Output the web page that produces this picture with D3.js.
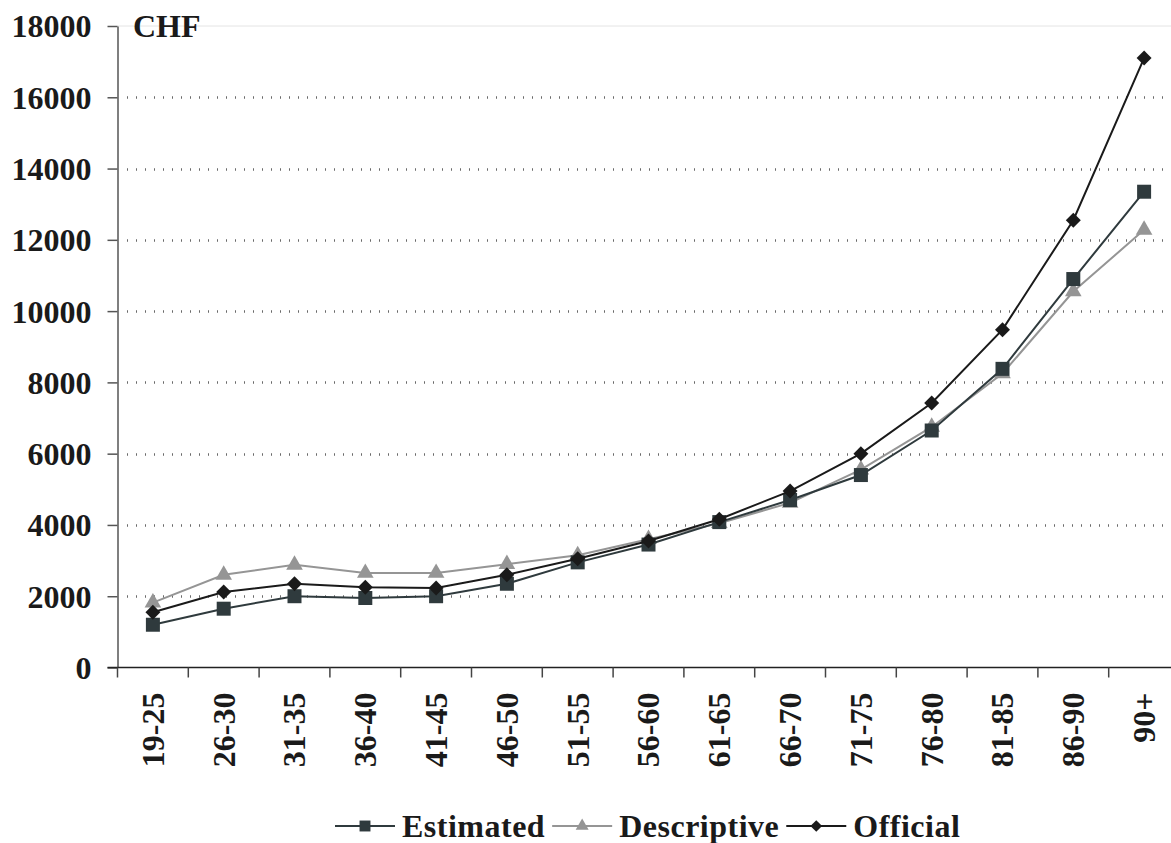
<!DOCTYPE html>
<html>
<head>
<meta charset="utf-8">
<script src="https://cdn.jsdelivr.net/npm/d3@7"></script>
<style>
  html, body { margin: 0; padding: 0; background: #fff; }
  svg { display: block; }
</style>
</head>
<body>
<svg id="chart" width="1171" height="843"></svg>
<script>
// Age groups on the x axis
const categories = ["19-25", "26-30", "31-35", "36-40", "41-45", "46-50", "51-55", "56-60",
                    "61-65", "66-70", "71-75", "76-80", "81-85", "86-90", "90+"];

// Cost per age group, CHF
const estimated   = [1200, 1650, 2000, 1950, 2000, 2350, 2950, 3450, 4080, 4700, 5400, 6650, 8380, 10900, 13350];
const descriptive = [1820, 2600, 2880, 2650, 2650, 2900, 3150, 3600, 4050, 4620, 5550, 6750, 8250, 10550, 12280];
const official    = [1550, 2120, 2350, 2250, 2230, 2600, 3050, 3550, 4160, 4950, 6000, 7420, 9480, 12550, 17100];

const yTicks = [0, 2000, 4000, 6000, 8000, 10000, 12000, 14000, 16000, 18000];
const seriesNames = ["Estimated", "Descriptive", "Official"];

const FONT = "'Liberation Serif', 'Times New Roman', serif";
const svg = d3.select("#chart");

function styleText(sel, size) {
  return sel.style("font-family", FONT).style("font-weight", "bold")
    .style("font-size", size + "px").style("fill", "#1a1a1a");
}

const plotLeft = 117.5, plotRight = 1179.5, plotTop = 26, plotBottom = 667.5;
const x = d3.scaleBand().domain(categories).range([plotLeft, plotRight]).padding(0);
const y = d3.scaleLinear().domain([0, 18000]).range([plotBottom, plotTop]);

// plot-area top border
svg.append("line")
  .attr("x1", plotLeft).attr("x2", plotRight)
  .attr("y1", y(18000)).attr("y2", y(18000))
  .attr("stroke", "#e4e4e4").attr("stroke-width", 1);

// dotted horizontal grid
svg.append("g").selectAll("line")
  .data(yTicks.filter(v => v > 0 && v < 18000))
  .join("line")
  .attr("x1", plotLeft + 9.5).attr("x2", plotRight)
  .attr("y1", d => Math.round(y(d)) + 0.5).attr("y2", d => Math.round(y(d)) + 0.5)
  .attr("stroke", "#6a6a6a").attr("stroke-width", 2.5)
  .attr("stroke-dasharray", "1 8");

// y axis
const yAxis = svg.append("g")
  .attr("transform", `translate(${plotLeft},0)`)
  .call(d3.axisLeft(y).tickValues(yTicks).tickSize(10).tickSizeOuter(0).tickPadding(16)
    .tickFormat(d3.format("d")));
yAxis.select(".domain").attr("stroke", "#555").attr("stroke-width", 1.5);
yAxis.selectAll(".tick line").attr("stroke", "#555").attr("stroke-width", 1.5);
styleText(yAxis.selectAll(".tick text"), 32).attr("dy", "0.34em");

// x axis line and boundary ticks
const xAxis = svg.append("g");
xAxis.append("line")
  .attr("x1", plotLeft - 10).attr("x2", plotRight)
  .attr("y1", plotBottom).attr("y2", plotBottom)
  .attr("stroke", "#222").attr("stroke-width", 1.5);
xAxis.selectAll("line.tk")
  .data(categories.concat(["__end"]))
  .join("line").attr("class", "tk")
  .attr("x1", d => d === "__end" ? plotRight : x(d))
  .attr("x2", d => d === "__end" ? plotRight : x(d))
  .attr("y1", plotBottom).attr("y2", plotBottom + 10)
  .attr("stroke", "#444").attr("stroke-width", 1.5);
styleText(xAxis.selectAll("text")
  .data(categories)
  .join("text")
  .attr("transform", d => `translate(${x(d) + x.bandwidth() / 2},${plotBottom + 25}) rotate(-90)`)
  .attr("text-anchor", "end")
  .attr("dy", "0.34em")
  .text(d => d), 32);

// unit label
styleText(svg.append("text").attr("x", 133).attr("y", 37).text("CHF"), 32);

// series
const series = [
  { name: seriesNames[0], values: estimated,   color: "#2f3a3d", shape: "square" },
  { name: seriesNames[1], values: descriptive, color: "#959595", shape: "triangle" },
  { name: seriesNames[2], values: official,    color: "#1a1a1a", shape: "diamond" }
];

function markerPath(shape, scale) {
  if (shape === "square") return d3.symbol(d3.symbolSquare, 196 * scale * scale)();
  if (shape === "triangle") return d3.symbol(d3.symbolTriangle, 120 * scale * scale)();
  return d3.symbol(d3.symbolSquare, 112 * scale * scale)();
}

const line = d3.line()
  .x((d, i) => x(categories[i]) + x.bandwidth() / 2)
  .y(d => y(d));

const g = svg.append("g");
// draw order: Descriptive, Estimated, Official on top
[series[1], series[0], series[2]].forEach(s => {
  g.append("path")
    .attr("d", line(s.values))
    .attr("fill", "none")
    .attr("stroke", s.color)
    .attr("stroke-width", 2);
  g.append("g").selectAll("path")
    .data(s.values)
    .join("path")
    .attr("d", markerPath(s.shape, 1))
    .attr("transform", (d, i) => `translate(${x(categories[i]) + x.bandwidth() / 2},${y(d)})` +
      (s.shape === "diamond" ? " rotate(45)" : ""))
    .attr("fill", s.color);
});

// legend
const legend = svg.append("g");
let lx = 335;
const ly = 826;
const segLen = 60;
series.forEach(s => {
  const item = legend.append("g");
  item.append("line")
    .attr("x1", lx).attr("x2", lx + segLen)
    .attr("y1", ly).attr("y2", ly)
    .attr("stroke", s.color).attr("stroke-width", 2);
  item.append("path")
    .attr("d", markerPath(s.shape, 0.78))
    .attr("transform", `translate(${lx + segLen / 2},${ly})` + (s.shape === "diamond" ? " rotate(45)" : ""))
    .attr("fill", s.color);
  const t = styleText(item.append("text")
    .attr("x", lx + segLen + 7).attr("y", ly + 11)
    .style("letter-spacing", "0.5px")
    .text(s.name), 32);
  lx = lx + segLen + 7 + t.node().getComputedTextLength() + 7;
});
</script>
</body>
</html>
